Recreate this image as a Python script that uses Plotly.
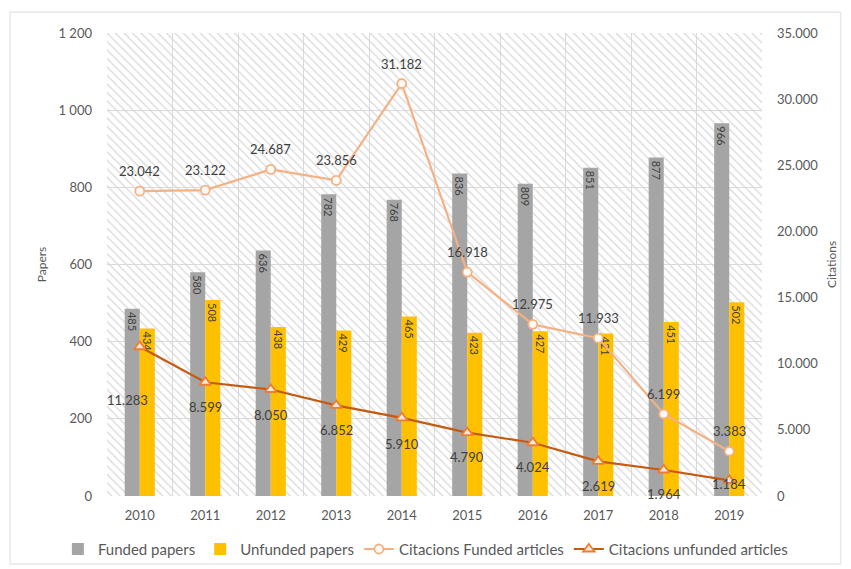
import plotly.graph_objects as go

# ---------------- data ----------------
years = ["2010", "2011", "2012", "2013", "2014", "2015", "2016", "2017", "2018", "2019"]
funded_papers = [485, 580, 636, 782, 768, 836, 809, 851, 877, 966]
unfunded_papers = [434, 508, 438, 429, 465, 423, 427, 421, 451, 502]
cit_funded = [23042, 23122, 24687, 23856, 31182, 16918, 12975, 11933, 6199, 3383]
cit_unfunded = [11283, 8599, 8050, 6852, 5910, 4790, 4024, 2619, 1964, 1184]

left_ticks = [0, 200, 400, 600, 800, 1000, 1200]
left_ticktext = ["0", "200", "400", "600", "800", "1 000", "1 200"]
right_ticks = [0, 5000, 10000, 15000, 20000, 25000, 30000, 35000]
right_ticktext = ["0", "5.000", "10.000", "15.000", "20.000", "25.000", "30.000", "35.000"]

series_names = ["Funded papers", "Unfunded papers",
                "Citacions Funded articles", "Citacions unfunded articles"]

# ---------------- styles ----------------
FONT = "Lato"
TXT = "#595959"
LBL = "#404040"
GRID = "#d9d9d9"
GRAY = "#a5a5a5"
YELLOW = "#ffc000"
ORANGE_LIGHT = "#f4b183"
ORANGE_DARK = "#c55a11"

left_range = [0, 1200]
right_range = [0, 35000]
BAR_W = 0.23


def fmt(v):
    return f"{v:,}".replace(",", ".")


fig = go.Figure()

# hatched plot background (decorative, one full-width slot per category)
fig.add_trace(go.Bar(
    x=years, y=[left_range[1]] * len(years), width=1.0, offset=-0.5,
    marker=dict(color="rgba(255,255,255,0)", line=dict(width=0),
                pattern=dict(shape="\\", fgcolor="#d9d9d9", bgcolor="rgba(255,255,255,0)",
                             size=6, solidity=0.22)),
    hoverinfo="skip", showlegend=False,
))

fig.add_trace(go.Bar(
    x=years, y=funded_papers, name=series_names[0], width=BAR_W, offset=-BAR_W,
    marker=dict(color=GRAY, line=dict(width=0)),
    text=[str(v) for v in funded_papers], textposition="inside",
    insidetextanchor="end", textangle=90,
    textfont=dict(family=FONT, size=11, color=LBL),
))
fig.add_trace(go.Bar(
    x=years, y=unfunded_papers, name=series_names[1], width=BAR_W, offset=0,
    marker=dict(color=YELLOW, line=dict(width=0)),
    text=[str(v) for v in unfunded_papers], textposition="inside",
    insidetextanchor="end", textangle=90,
    textfont=dict(family=FONT, size=11, color=LBL),
))
fig.add_trace(go.Scatter(
    x=years, y=cit_funded, name=series_names[2], yaxis="y2",
    mode="lines+markers",
    line=dict(color=ORANGE_LIGHT, width=2.2),
    marker=dict(symbol="circle", size=9, color="#fffaf5",
                line=dict(color=ORANGE_LIGHT, width=1.8)),
))
fig.add_trace(go.Scatter(
    x=years, y=cit_unfunded, name=series_names[3], yaxis="y2",
    mode="lines+markers",
    line=dict(color=ORANGE_DARK, width=2.2),
    marker=dict(symbol="triangle-up", size=10, color="#fde9d9",
                line=dict(color="#ed7d31", width=1.8)),
))

# data labels for the citation lines (x given as category index)
annotations = []
for i, v in enumerate(cit_funded):
    annotations.append(dict(x=i, y=v, xref="x", yref="y2", text=fmt(v),
                            showarrow=False, yshift=20,
                            font=dict(family=FONT, size=13, color=LBL)))
unf_xshift = [-12, 0, 0, 0, 0, 0, 0, 0, 0, 0]
unf_yshift = [-53, -25, -25, -25, -26, -24, -24, -25, -24, -4]
for i, v in enumerate(cit_unfunded):
    annotations.append(dict(x=i, y=v, xref="x", yref="y2", text=fmt(v),
                            showarrow=False, xshift=unf_xshift[i], yshift=unf_yshift[i],
                            font=dict(family=FONT, size=13, color=LBL)))

fig.update_layout(
    template="none",
    width=851, height=569,
    margin=dict(l=107, r=89, t=33, b=73, autoexpand=False),
    paper_bgcolor="white", plot_bgcolor="white",
    font=dict(family=FONT, size=13, color=TXT),
    barmode="overlay",
    uniformtext=dict(minsize=11, mode="show"),
    xaxis=dict(type="category", range=[-0.5, len(years) - 0.5],
               tickson="boundaries", showgrid=True, gridcolor=GRID, gridwidth=1,
               showline=False, ticks="", zeroline=False, ticklabelstandoff=10,
               tickfont=dict(family=FONT, size=13, color=TXT)),
    yaxis=dict(range=left_range, tickvals=left_ticks, ticktext=left_ticktext,
               showgrid=True, gridcolor=GRID, gridwidth=1, zeroline=False,
               showline=False, ticks="", ticklabelstandoff=14,
               tickfont=dict(family=FONT, size=13, color=TXT),
               title=dict(text="Papers", standoff=9,
                          font=dict(family=FONT, size=12, color=TXT))),
    yaxis2=dict(overlaying="y", side="right", anchor="x", range=right_range,
                tickvals=right_ticks, ticktext=right_ticktext, showgrid=False,
                zeroline=False, showline=False, ticks="", ticklabelstandoff=14,
                tickfont=dict(family=FONT, size=13, color=TXT),
                title=dict(text="Citations", standoff=10,
                           font=dict(family=FONT, size=12, color=TXT))),
    legend=dict(orientation="h", x=-0.075, xanchor="left", y=-0.115, yanchor="middle",
                font=dict(family=FONT, size=15, color=TXT), traceorder="normal",
                itemwidth=30, bgcolor="rgba(0,0,0,0)"),
    annotations=annotations,
    shapes=[dict(type="rect", xref="paper", yref="paper",
                 x0=-0.148, x1=1.12, y0=-0.147, y1=1.045,
                 line=dict(color="#e8e8e8", width=1.5), fillcolor="rgba(0,0,0,0)",
                 layer="below")],
)

fig.write_html("out.html")
